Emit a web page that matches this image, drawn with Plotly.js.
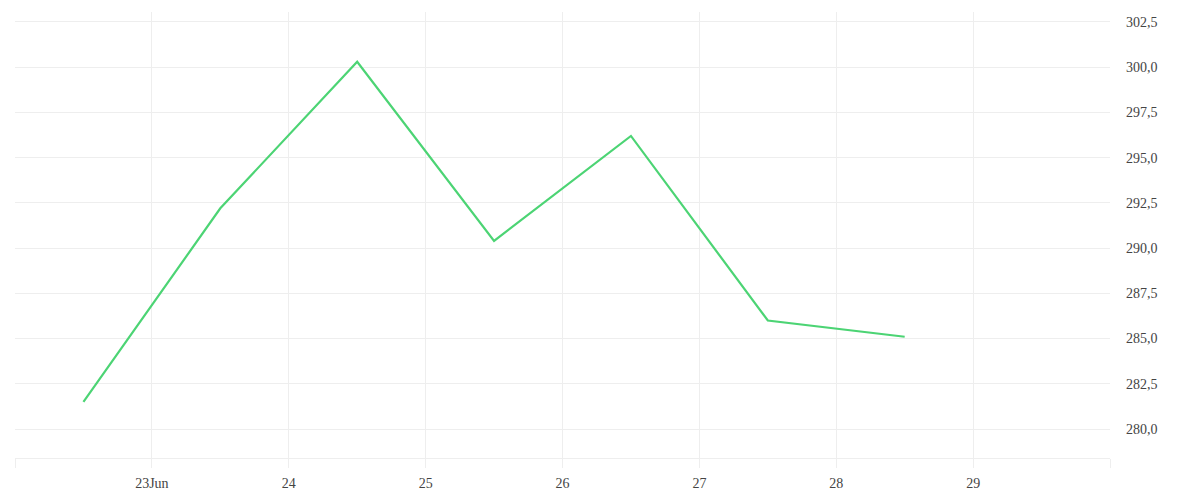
<!DOCTYPE html>
<html><head><meta charset="utf-8">
<script src="https://cdn.plot.ly/plotly-3.0.1.min.js"></script>
<style>html,body{margin:0;padding:0;background:#fff}#c{width:1200px;height:500px}</style>
</head><body><div id="c"></div>
<script>
const dates = ['2024-06-22 12:00','2024-06-23 12:00','2024-06-24 12:00','2024-06-25 12:00','2024-06-26 12:00','2024-06-27 12:00','2024-06-28 12:00'];
const values = [281.5, 292.2, 300.3, 290.4, 296.2, 286.0, 285.1];
const tickDates = ['2024-06-22','2024-06-23','2024-06-24','2024-06-25','2024-06-26','2024-06-27','2024-06-28','2024-06-29','2024-06-30'];
const tickLabels = ['', '23Jun', '24', '25', '26', '27', '28', '29', ''];
const yTicks = [280, 282.5, 285, 287.5, 290, 292.5, 295, 297.5, 300, 302.5];

Plotly.newPlot('c', [{
  x: dates, y: values, type: 'scatter', mode: 'lines',
  line: {color: '#4cd474', width: 2.2}, hoverinfo: 'x+y'
}], {
  width: 1200, height: 500,
  margin: {l: 15, r: 90, t: 12, b: 42},
  separators: ', ',
  paper_bgcolor: '#fff', plot_bgcolor: '#fff',
  font: {family: 'Liberation Serif, DejaVu Serif, serif', size: 14, color: '#444'},
  showlegend: false,
  xaxis: {
    type: 'date', range: ['2024-06-22', '2024-06-30'],
    tickmode: 'array', tickvals: tickDates, ticktext: tickLabels,
    showgrid: true, gridcolor: '#eeeeee', gridwidth: 1,
    ticks: 'outside', ticklen: 9, tickcolor: '#eeeeee', tickwidth: 1,
    ticklabelstandoff: 3,
    showline: true, linecolor: '#eeeeee', linewidth: 1,
    zeroline: false, fixedrange: true
  },
  yaxis: {
    side: 'right', range: [278.4, 303.05],
    tickmode: 'array', tickvals: yTicks, tickformat: '.1f',
    showgrid: true, gridcolor: '#eeeeee', gridwidth: 1,
    ticks: '', ticklabelstandoff: 15, showline: false, zeroline: false, fixedrange: true
  }
}, {displayModeBar: false, staticPlot: true});
</script></body></html>
